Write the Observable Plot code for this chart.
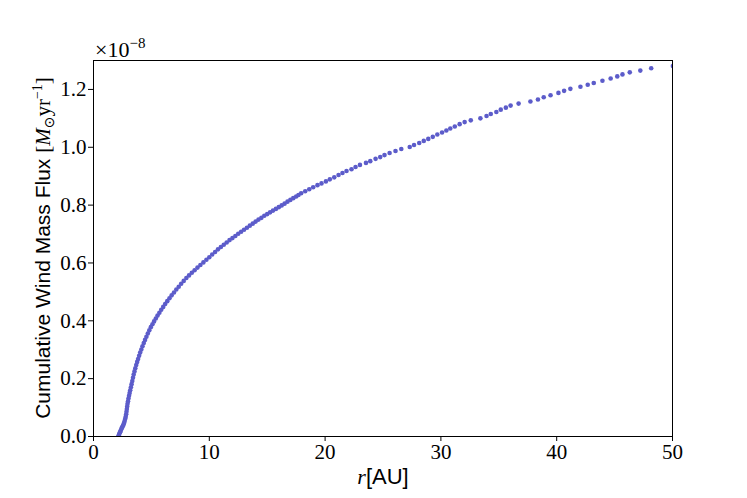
<!DOCTYPE html>
<html><head><meta charset="utf-8">
<script src="https://cdn.jsdelivr.net/npm/d3@7"></script>
<script src="https://cdn.jsdelivr.net/npm/@observablehq/plot@0.6"></script>
<style>body{margin:0;background:#fff} svg{display:block}</style>
</head><body><div id="chart"></div>
<script>
// radius r [AU]
const radius = [
 2.14,2.19,2.24,2.29,2.34,2.39,2.44,2.49,2.54,2.59,2.64,2.69,2.74,2.78,2.82,2.85,2.88,2.91,2.94,2.98,
 3.02,3.07,3.12,3.17,3.23,3.29,3.35,3.41,3.47,3.54,3.61,3.69,3.77,3.85,3.94,4.03,4.13,4.23,4.34,4.45,
 4.57,4.69,4.82,4.95,5.09,5.23,5.38,5.53,5.69,5.85,6.02,6.19,6.37,6.56,6.75,6.95,7.15,7.36,7.57,7.79,
 8.02,8.25,8.49,8.73,8.98,9.23,9.49,9.75,10.00,10.25,10.50,10.75,11.00,11.25,11.50,11.75,12.00,12.25,12.50,12.75,
 13.00,13.25,13.50,13.75,14.00,14.25,14.50,14.75,15.00,15.25,15.50,15.75,16.00,16.25,16.50,16.75,17.00,17.25,17.50,17.70,
 17.93,18.28,18.63,18.97,19.34,19.69,20.07,20.41,20.79,21.16,21.50,21.85,22.28,22.63,23.01,23.53,23.90,24.36,24.76,25.13,
 25.57,26.08,26.58,27.31,27.68,28.13,28.52,28.91,29.30,29.69,30.10,30.47,30.81,31.20,31.62,32.05,32.58,33.41,33.94,34.31,
 34.79,35.17,35.61,36.02,36.71,37.73,38.38,38.88,39.47,40.15,40.64,41.18,42.05,42.68,43.20,43.95,44.66,45.23,45.68,46.31,
 47.22,48.16,50.04
];
// cumulative wind mass flux [1e-8 Msun/yr]
const flux = [
 0.000,0.005,0.010,0.015,0.019,0.024,0.029,0.033,0.037,0.041,0.047,0.054,0.061,0.068,0.077,0.086,0.095,0.104,0.113,0.122,
 0.131,0.141,0.150,0.160,0.170,0.181,0.192,0.203,0.214,0.225,0.236,0.247,0.258,0.268,0.279,0.290,0.301,0.312,0.323,0.334,
 0.345,0.356,0.367,0.378,0.388,0.398,0.408,0.418,0.428,0.438,0.448,0.458,0.468,0.478,0.488,0.498,0.508,0.518,0.528,0.538,
 0.548,0.557,0.566,0.575,0.584,0.593,0.602,0.611,0.620,0.629,0.638,0.647,0.655,0.663,0.671,0.679,0.686,0.693,0.701,0.708,
 0.715,0.722,0.729,0.736,0.743,0.750,0.756,0.763,0.769,0.775,0.781,0.787,0.793,0.799,0.805,0.812,0.818,0.824,0.830,0.835,
 0.841,0.848,0.855,0.862,0.869,0.875,0.882,0.889,0.896,0.904,0.911,0.918,0.924,0.932,0.939,0.946,0.952,0.960,0.966,0.973,
 0.980,0.987,0.994,1.001,1.008,1.015,1.022,1.029,1.036,1.044,1.051,1.058,1.065,1.072,1.080,1.087,1.093,1.100,1.108,1.115,
 1.122,1.130,1.137,1.144,1.151,1.158,1.165,1.173,1.180,1.188,1.195,1.202,1.209,1.216,1.222,1.230,1.238,1.245,1.252,1.259,
 1.265,1.273,1.281
];
const xTicks = [0, 10, 20, 30, 40, 50];
const yTicks = [0, 0.2, 0.4, 0.6, 0.8, 1.0, 1.2];
const yExponent = "−8";

const data = radius.map((r, i) => ({r, f: flux[i]}));

const plot = Plot.plot({
  width: 747, height: 498,
  marginLeft: 93, marginRight: 75, marginTop: 60, marginBottom: 62,
  style: {fontFamily: "'Liberation Serif', serif", fontSize: "21px", background: "#fff", color: "#000"},
  x: {domain: [0, 50]},
  y: {domain: [0, 1.3]},
  marks: [
    Plot.dot(data, {x: "r", y: "f", r: 2.3, fill: "#5c5cca", stroke: "none", clip: true}),
    Plot.frame({stroke: "#000", strokeWidth: 1}),
    Plot.axisX({ticks: xTicks, tickSize: 5, tickPadding: 3, label: null, tickFormat: d => String(d), fontSize: 21}),
    Plot.axisY({ticks: yTicks, tickSize: 5, tickPadding: 2, label: null, tickFormat: d3.format(".1f"), fontSize: 21})
  ]
});
document.getElementById("chart").appendChild(plot);

const svg = d3.select(plot);
// x label
const xl = svg.append("text").attr("x", 383).attr("y", 484).attr("text-anchor", "middle").attr("font-size", 22).attr("fill", "#000");
xl.append("tspan").attr("font-family", "'Liberation Serif', serif").attr("font-style", "italic").text("r");
xl.append("tspan").attr("font-family", "'Liberation Sans', sans-serif").text("[AU]");
// y label
const yl = svg.append("text").attr("transform", "translate(50,248) rotate(-90)").attr("text-anchor", "middle").attr("font-size", 21).attr("fill", "#000");
yl.append("tspan").attr("font-family", "'Liberation Sans', sans-serif").text("Cumulative Wind Mass Flux ");
yl.append("tspan").attr("font-family", "'Liberation Serif', serif").text("[");
yl.append("tspan").attr("font-family", "'Liberation Serif', serif").attr("font-style", "italic").text("M");
yl.append("tspan").attr("font-family", "'DejaVu Sans', sans-serif").attr("font-size", 14).attr("dy", 4).text("⊙");
yl.append("tspan").attr("font-family", "'Liberation Serif', serif").attr("dy", -4).text("yr");
yl.append("tspan").attr("font-family", "'Liberation Serif', serif").attr("font-size", 14).attr("dy", -8).text("−1");
yl.append("tspan").attr("font-family", "'Liberation Serif', serif").attr("dy", 8).text("]");
// exponent
const ex = svg.append("text").attr("x", 95).attr("y", 57).attr("text-anchor", "start").attr("font-size", 22).attr("font-family", "'Liberation Serif', serif").attr("fill", "#000");
ex.append("tspan").text("×10");
ex.append("tspan").attr("font-size", 15).attr("dy", -9).text(yExponent);
</script>
</body></html>
